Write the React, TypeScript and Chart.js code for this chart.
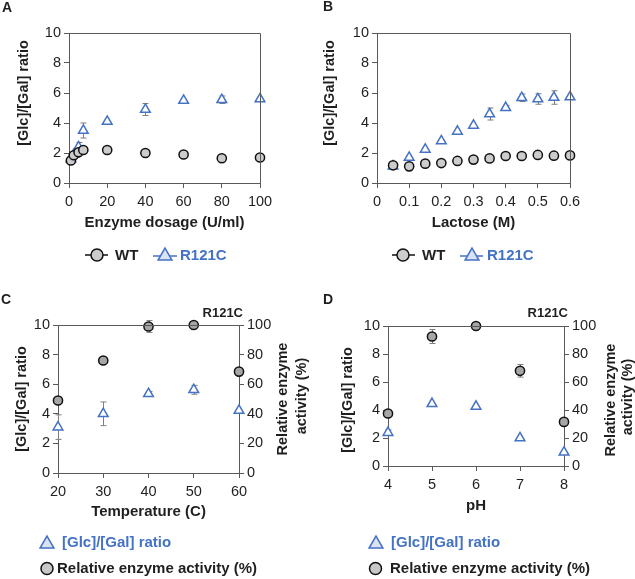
import React, { useEffect, useRef } from 'react';
import { Chart, registerables } from 'chart.js';

Chart.register(...registerables);

const FONT = '"Liberation Sans", Arial, Helvetica, sans-serif';
const BLUE = '#4472C4';
const AXIS = '#595959';
const TEXT = '#1f1f1f';
const ERR = '#7f7f7f';

// ---------- Panel A: enzyme dosage ----------
const dosage = [1, 2.5, 5, 7.5, 20, 40, 60, 80, 100];
const dosageWT = [1.5, 1.85, 2.05, 2.2, 2.2, 2.0, 1.9, 1.65, 1.7];
const dosageWTErr = [0, 0, 0, 0, 0, 0, 0, 0, 0];
const dosageMut = [1.6, 1.9, 2.4, 3.5, 4.1, 4.9, 5.5, 5.55, 5.6];
const dosageMutErr = [0, 0, 0.3, 0.5, 0, 0.4, 0, 0.25, 0];
const dosageTicks = { min: 0, max: 100, step: 20 };

// ---------- Panel B: lactose ----------
const lactose = [0.05, 0.1, 0.15, 0.2, 0.25, 0.3, 0.35, 0.4, 0.45, 0.5, 0.55, 0.6];
const lactoseWT = [1.18, 1.11, 1.29, 1.33, 1.47, 1.56, 1.64, 1.8, 1.8, 1.87, 1.82, 1.84];
const lactoseWTErr = [0, 0, 0, 0, 0, 0, 0, 0, 0, 0, 0, 0];
const lactoseMut = [1.12, 1.7, 2.24, 2.8, 3.44, 3.84, 4.6, 5.02, 5.68, 5.6, 5.7, 5.73];
const lactoseMutErr = [0, 0, 0, 0, 0, 0, 0.4, 0.15, 0.25, 0.35, 0.45, 0];
const lactoseTicks = { min: 0, max: 0.6, step: 0.1 };

// ---------- Panel C: temperature ----------
const temperature = [20, 30, 40, 50, 60];
const tempRatio = [3.1, 4.0, 5.35, 5.62, 4.22];
const tempRatioErr = [0.83, 0.8, 0.15, 0.3, 0];
const tempActivity = [49, 76, 99, 100, 68.5];
const tempActivityErr = [0, 0, 4, 0, 0];
const tempTicks = { min: 20, max: 60, step: 10 };

// ---------- Panel D: pH ----------
const ph = [4, 5, 6, 7, 8];
const phRatio = [2.38, 4.45, 4.26, 2.0, 0.98];
const phRatioErr = [0.2, 0, 0, 0, 0];
const phActivity = [37.5, 92.5, 100, 68, 31.5];
const phActivityErr = [0, 5, 0, 4.5, 0];
const phTicks = { min: 4, max: 8, step: 1 };

const ratioTicks = { min: 0, max: 10, step: 2 };
const activityTicks = { min: 0, max: 100, step: 20 };

const ratioTitle = '[Glc]/[Gal] ratio';
const activityTitle = ['Relative enzyme', 'activity (%)'];

const pts = (xs: number[], ys: number[]) => xs.map((x, i) => ({ x, y: ys[i] }));

function circleDS(label: string, xs: number[], ys: number[], errs: number[], fill: string, axis = 'y') {
  return {
    label,
    data: pts(xs, ys),
    errors: errs,
    yAxisID: axis,
    pointStyle: 'circle',
    pointRadius: 4.6,
    pointHoverRadius: 4.6,
    pointBorderWidth: 1.5,
    pointBackgroundColor: fill,
    pointBorderColor: '#111111',
    backgroundColor: fill,
    borderColor: '#111111',
    showLine: false,
    clip: false,
  };
}

function triDS(label: string, xs: number[], ys: number[], errs: number[], axis = 'y') {
  return {
    label,
    data: pts(xs, ys),
    errors: errs,
    yAxisID: axis,
    pointStyle: 'triangle',
    pointRadius: 5.6,
    pointHoverRadius: 5.6,
    pointBorderWidth: 1.5,
    pointBackgroundColor: '#ffffff',
    pointBorderColor: BLUE,
    backgroundColor: '#ffffff',
    borderColor: BLUE,
    showLine: false,
    clip: false,
  };
}

// ---------- drawing helpers ----------
function txt(ctx: CanvasRenderingContext2D, s: string, x: number, y: number, o: any = {}) {
  const size = o.size ?? 15;
  ctx.save();
  ctx.translate(x, y);
  if (o.rot) ctx.rotate(o.rot);
  ctx.font = `${o.bold === false ? '' : 'bold '}${size}px ${FONT}`;
  ctx.fillStyle = o.color ?? TEXT;
  ctx.textAlign = o.align ?? 'center';
  ctx.textBaseline = 'middle';
  ctx.fillText(s, 0, 0);
  ctx.restore();
}

function circle(ctx: CanvasRenderingContext2D, x: number, y: number, r: number, fill: string) {
  ctx.save();
  ctx.beginPath();
  ctx.arc(x, y, r, 0, Math.PI * 2);
  ctx.fillStyle = fill;
  ctx.fill();
  ctx.lineWidth = 1.5;
  ctx.strokeStyle = '#111111';
  ctx.stroke();
  ctx.restore();
}

function triangle(ctx: CanvasRenderingContext2D, x: number, y: number, r: number, fill: string) {
  ctx.save();
  ctx.beginPath();
  let rad = 0;
  ctx.moveTo(x + Math.sin(rad) * r, y - Math.cos(rad) * r);
  rad += (2 * Math.PI) / 3;
  ctx.lineTo(x + Math.sin(rad) * r, y - Math.cos(rad) * r);
  rad += (2 * Math.PI) / 3;
  ctx.lineTo(x + Math.sin(rad) * r, y - Math.cos(rad) * r);
  ctx.closePath();
  ctx.fillStyle = fill;
  ctx.fill();
  ctx.lineWidth = 1.5;
  ctx.strokeStyle = BLUE;
  ctx.stroke();
  ctx.restore();
}

function hline(ctx: CanvasRenderingContext2D, x1: number, x2: number, y: number, color: string) {
  ctx.save();
  ctx.beginPath();
  ctx.moveTo(x1, y);
  ctx.lineTo(x2, y);
  ctx.lineWidth = 1.5;
  ctx.strokeStyle = color;
  ctx.stroke();
  ctx.restore();
}

const errorBarPlugin = {
  id: 'errorBars',
  beforeDatasetsDraw(chart: any) {
    const ctx = chart.ctx as CanvasRenderingContext2D;
    ctx.save();
    ctx.strokeStyle = ERR;
    ctx.lineWidth = 1;
    chart.data.datasets.forEach((ds: any) => {
      const errs: number[] = ds.errors;
      if (!errs) return;
      const xs = chart.scales.x;
      const ys = chart.scales[ds.yAxisID || 'y'];
      ds.data.forEach((p: any, j: number) => {
        const e = errs[j];
        if (!e) return;
        const x = Math.round(xs.getPixelForValue(p.x)) + 0.5;
        const y1 = ys.getPixelForValue(p.y + e);
        const y2 = ys.getPixelForValue(p.y - e);
        ctx.beginPath();
        ctx.moveTo(x, y1);
        ctx.lineTo(x, y2);
        ctx.moveTo(x - 3, y1);
        ctx.lineTo(x + 3, y1);
        ctx.moveTo(x - 3, y2);
        ctx.lineTo(x + 3, y2);
        ctx.stroke();
      });
    });
    ctx.restore();
  },
};

function decorPlugin(draw: (ctx: CanvasRenderingContext2D) => void, boxRight: boolean) {
  return {
    id: 'decor',
    afterDraw(chart: any) {
      const ctx = chart.ctx as CanvasRenderingContext2D;
      const a = chart.chartArea;
      ctx.save();
      ctx.strokeStyle = AXIS;
      ctx.lineWidth = 1;
      ctx.beginPath();
      const top = Math.round(a.top) + 0.5;
      const right = Math.round(a.right) + 0.5;
      ctx.moveTo(Math.round(a.left), top);
      ctx.lineTo(right, top);
      if (boxRight) ctx.lineTo(right, Math.round(a.bottom) + 0.5);
      ctx.stroke();
      ctx.restore();
      draw(ctx);
    },
  };
}

const fmt = (v: any) => String(Math.round(Number(v) * 1000) / 1000);

function axis(t: { min: number; max: number; step: number }, pos: string) {
  const horizontal = pos === 'bottom';
  return {
    type: 'linear',
    position: pos,
    min: t.min,
    max: t.max,
    ticks: {
      stepSize: t.step,
      color: TEXT,
      font: { family: FONT, size: 14.5 },
      padding: horizontal ? 5 : 3,
      autoSkip: false,
      maxRotation: 0,
      callback: fmt,
    },
    grid: { display: true, drawOnChartArea: false, drawTicks: true, tickLength: 5, color: AXIS, lineWidth: 1 },
    border: { display: true, color: AXIS, width: 1 },
    afterFit: (s: any) => {
      if (horizontal) s.height = 30;
      else s.width = 40;
    },
  };
}

type Panel = {
  area: { l: number; t: number; r: number; b: number };
  x: { min: number; max: number; step: number };
  y2: boolean;
  datasets: any[];
  draw: (ctx: CanvasRenderingContext2D) => void;
};

const ROT = -Math.PI / 2;
const YT = 14.5;

const panels: Panel[] = [
  {
    area: { l: 69, t: 33, r: 260, b: 183 },
    x: dosageTicks,
    y2: false,
    datasets: [
      circleDS('WT', dosage, dosageWT, dosageWTErr, '#cccccc'),
      triDS('R121C', dosage, dosageMut, dosageMutErr),
    ],
    draw: (ctx) => {
      txt(ctx, 'A', 2, 8, { align: 'left', size: 14 });
      txt(ctx, ratioTitle, 24, 93, { rot: ROT, size: YT });
      txt(ctx, 'Enzyme dosage (U/ml)', 164.5, 223);
      hline(ctx, 85, 108, 255, '#111111');
      circle(ctx, 97, 255, 6, '#cccccc');
      txt(ctx, 'WT', 115, 256, { align: 'left' });
      hline(ctx, 153, 177, 256, BLUE);
      triangle(ctx, 165, 256, 8, '#dae3f3');
      txt(ctx, 'R121C', 180, 256, { align: 'left', color: BLUE });
    },
  },
  {
    area: { l: 377, t: 33, r: 570, b: 183 },
    x: lactoseTicks,
    y2: false,
    datasets: [
      circleDS('WT', lactose, lactoseWT, lactoseWTErr, '#cccccc'),
      triDS('R121C', lactose, lactoseMut, lactoseMutErr),
    ],
    draw: (ctx) => {
      txt(ctx, 'B', 323, 7, { align: 'left', size: 14 });
      txt(ctx, ratioTitle, 330, 93, { rot: ROT, size: YT });
      txt(ctx, 'Lactose (M)', 473.5, 223);
      hline(ctx, 392, 415, 255, '#111111');
      circle(ctx, 403, 255, 6, '#cccccc');
      txt(ctx, 'WT', 422, 256, { align: 'left' });
      hline(ctx, 460, 483, 256, BLUE);
      triangle(ctx, 472, 256, 8, '#dae3f3');
      txt(ctx, 'R121C', 487, 256, { align: 'left', color: BLUE });
    },
  },
  {
    area: { l: 58, t: 325, r: 239, b: 473 },
    x: tempTicks,
    y2: true,
    datasets: [
      circleDS('Relative enzyme activity (%)', temperature, tempActivity, tempActivityErr, '#a6a6a6', 'y2'),
      triDS('[Glc]/[Gal] ratio', temperature, tempRatio, tempRatioErr),
    ],
    draw: (ctx) => {
      txt(ctx, 'C', 1, 300, { align: 'left', size: 14 });
      txt(ctx, 'R121C', 243, 313, { align: 'right', size: 13 });
      txt(ctx, ratioTitle, 22, 399, { rot: ROT, size: YT });
      txt(ctx, activityTitle[0], 283, 399, { rot: ROT, size: YT });
      txt(ctx, activityTitle[1], 302, 396, { rot: ROT, size: YT });
      txt(ctx, 'Temperature (C)', 148.5, 512);
      triangle(ctx, 47, 544, 8, '#dae3f3');
      txt(ctx, '[Glc]/[Gal] ratio', 62, 543, { align: 'left', color: BLUE });
      circle(ctx, 47, 568.5, 6, '#c8c8c8');
      txt(ctx, 'Relative enzyme activity (%)', 57, 569, { align: 'left' });
    },
  },
  {
    area: { l: 388, t: 326, r: 564, b: 466 },
    x: phTicks,
    y2: true,
    datasets: [
      circleDS('Relative enzyme activity (%)', ph, phActivity, phActivityErr, '#a6a6a6', 'y2'),
      triDS('[Glc]/[Gal] ratio', ph, phRatio, phRatioErr),
    ],
    draw: (ctx) => {
      txt(ctx, 'D', 323, 300, { align: 'left', size: 14 });
      txt(ctx, 'R121C', 568, 313, { align: 'right', size: 13 });
      txt(ctx, ratioTitle, 348, 400, { rot: ROT, size: YT });
      txt(ctx, activityTitle[0], 611, 400, { rot: ROT, size: YT });
      txt(ctx, activityTitle[1], 628, 397, { rot: ROT, size: YT });
      txt(ctx, 'pH', 476, 506);
      triangle(ctx, 376, 544, 8, '#dae3f3');
      txt(ctx, '[Glc]/[Gal] ratio', 391, 543, { align: 'left', color: BLUE });
      circle(ctx, 375.5, 568.5, 6, '#c8c8c8');
      txt(ctx, 'Relative enzyme activity (%)', 390, 569, { align: 'left' });
    },
  },
];

const W = 635;
const H = 579;

function buildChart(canvas: HTMLCanvasElement, p: Panel) {
  const scales: any = {
    x: axis(p.x, 'bottom'),
    y: axis(ratioTicks, 'left'),
  };
  if (p.y2) scales.y2 = axis(activityTicks, 'right');
  return new Chart(canvas, {
    type: 'scatter',
    data: { datasets: p.datasets as any },
    options: {
      animation: false,
      responsive: false,
      devicePixelRatio: 1,
      events: [],
      layout: {
        padding: {
          left: p.area.l - 40,
          top: p.area.t,
          right: W - p.area.r - (p.y2 ? 40 : 0),
          bottom: H - p.area.b - 30,
        },
      },
      plugins: {
        legend: { display: false },
        tooltip: { enabled: false },
        title: { display: false },
      },
      scales,
    } as any,
    plugins: [errorBarPlugin, decorPlugin(p.draw, !p.y2)],
  });
}

export default function App() {
  const r0 = useRef<HTMLCanvasElement>(null);
  const r1 = useRef<HTMLCanvasElement>(null);
  const r2 = useRef<HTMLCanvasElement>(null);
  const r3 = useRef<HTMLCanvasElement>(null);
  const refs = [r0, r1, r2, r3];

  useEffect(() => {
    const charts = panels.map((p, i) => buildChart(refs[i].current as HTMLCanvasElement, p));
    return () => charts.forEach((c) => c.destroy());
  }, []);

  return (
    <div style={{ position: 'fixed', left: 0, top: 0, width: W, height: H, background: '#ffffff', overflow: 'hidden' }}>
      {refs.map((r, i) => (
        <canvas
          key={i}
          ref={r}
          width={W}
          height={H}
          style={{ position: 'absolute', left: 0, top: 0, width: W, height: H }}
        />
      ))}
    </div>
  );
}
